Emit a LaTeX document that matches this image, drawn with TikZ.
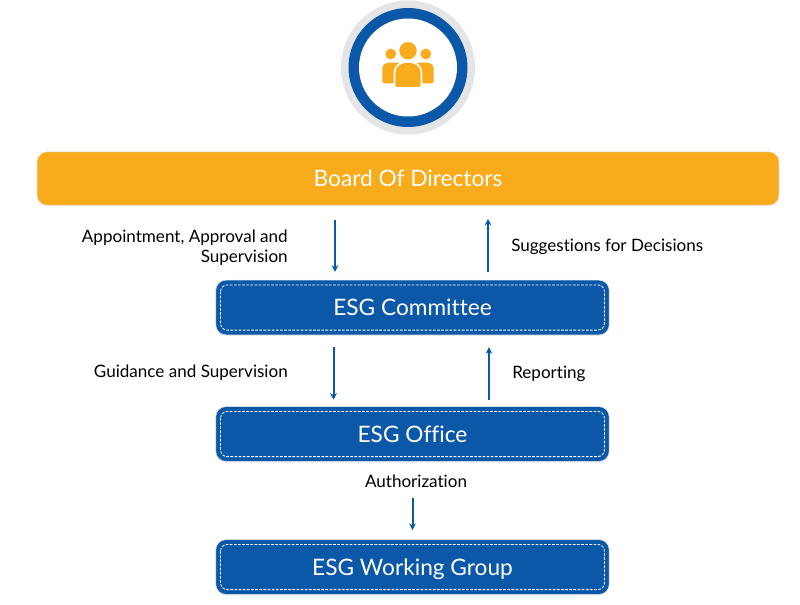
\documentclass[tikz,border=0pt]{standalone}
\usepackage{fontspec}
\setmainfont[Ligatures=NoCommon]{Lato}
\usetikzlibrary{arrows.meta, calc, shadows}
\definecolor{EsgBlue}{HTML}{0B57A8}
\definecolor{EsgAmber}{HTML}{F8AB1B}
\definecolor{EsgGray}{HTML}{E4E5E6}
\definecolor{EsgEdge}{HTML}{E6E6E6}
\tikzset{
    % Node styles
    boardbox/.style={
        rectangle,
        rounded corners=7.5pt,
        draw=EsgEdge,
        fill=EsgAmber,
        text=white,
        drop shadow={shadow xshift=0pt,shadow yshift=-0.8pt,fill=black,opacity=.1},
        minimum width=556.5pt,
        minimum height=40pt,
        text centered,
        font=\fontsize{17}{20}\selectfont
    },
    esgbox/.style={
        rectangle,
        rounded corners=7.5pt,
        draw=EsgEdge,
        fill=EsgBlue,
        text=white,
        drop shadow={shadow xshift=0pt,shadow yshift=-0.8pt,fill=black,opacity=.1},
        minimum width=295pt,
        minimum height=41pt,
        text height=12.4pt,
        text depth=0pt,
        text centered,
        font=\fontsize{17}{20}\selectfont
    },
    % Inner dashed frame
    dashframe/.style={
        draw=white,
        dash pattern=on 2pt off 1.1pt,
        line width=0.6pt,
        rounded corners=5pt
    },
    % Arrow styles
    flowarrow/.style={
        -{Stealth[length=5pt,width=5pt]},
        line width=1.5pt,
        EsgBlue
    },
    % Labels
    flowlabel/.style={
        font=\fontsize{12.8}{15}\selectfont,
        text=black,
        inner sep=0pt
    },
    % Icon
    iconpart/.style={
        fill=EsgAmber,
        draw=none
    }
}
\begin{document}
\begin{tikzpicture}[x=0.75pt,y=-0.75pt]
    \useasboundingbox (0,0) rectangle (800,604);

    % Icon badge
    \fill[EsgGray] (408,67.5) circle (67);
    \fill[EsgBlue] (408,67.5) circle (59.5);
    \fill[white] (408,67.5) circle (49);
    \fill[iconpart] (390.7,54) circle (5.4);
    \fill[iconpart] (425.7,54) circle (5.4);
    \fill[iconpart] (408,50.7) circle (8.7);
    \fill[iconpart,rounded corners=1.5pt] (382.3,83.3) -- (382.3,70)
        .. controls (382.3,65) and (385,62.7) .. (390,62.7) -- (400,62.7) -- (400,83.3) -- cycle;
    \fill[iconpart,rounded corners=1.5pt] (433.7,83.3) -- (433.7,70)
        .. controls (433.7,65) and (431,62.7) .. (426,62.7) -- (416,62.7) -- (416,83.3) -- cycle;
    \fill[iconpart,draw=white,line width=1.2pt,rounded corners=1.5pt] (394.5,87.6) -- (394.5,74)
        .. controls (394.5,66) and (401,62) .. (408,62)
        .. controls (415,62) and (421.5,66) .. (421.5,74) -- (421.5,87.6) -- cycle;

    % Levels
    \node[boardbox] (board) at (408,178.5) {Board Of Directors};
    \node[esgbox] (committee) at (412.5,307.5) {ESG Committee};
    \node[esgbox] (office) at (412.5,434) {ESG Office};
    \node[esgbox] (workgroup) at (412.5,567) {ESG Working Group};

    % Dashed frames
    \foreach \lvl in {committee,office,workgroup}{
        \draw[dashframe] ([shift={(5,5)}]\lvl.north west) rectangle ([shift={(-5,-5)}]\lvl.south east);
    }

    % Arrow columns
    \coordinate (downA) at (335,0);
    \coordinate (upA) at (488,0);
    \coordinate (downB) at (333.5,0);
    \coordinate (upB) at (489,0);
    \coordinate (auth) at (412.5,0);

    % Arrows
    \draw[flowarrow,shorten <=11pt,shorten >=6pt] (board.south -| downA) -- (committee.north -| downA);
    \draw[flowarrow,shorten <=6pt,shorten >=10pt] (committee.north -| upA) -- (board.south -| upA);
    \draw[flowarrow,shorten <=9pt,shorten >=5pt] (committee.south -| downB) -- (office.north -| downB);
    \draw[flowarrow,shorten <=5pt,shorten >=9pt] (office.north -| upB) -- (committee.south -| upB);
    \draw[flowarrow,shorten <=27pt,shorten >=7pt] (office.south -| auth) -- (workgroup.north -| auth);

    % Labels
    \node[flowlabel,anchor=east,align=right] (appoint) at (288,248) {Appointment, Approval and\\Supervision};
    \node[flowlabel,anchor=west] (suggest) at (511,246.5) {Suggestions for Decisions};
    \node[flowlabel,anchor=east] (guidance) at (288,373) {Guidance and Supervision};
    \node[flowlabel,anchor=west] (report) at (512,374) {Reporting};
    \node[flowlabel] (authlabel) at (416,481) {Authorization};
\end{tikzpicture}
\end{document}
